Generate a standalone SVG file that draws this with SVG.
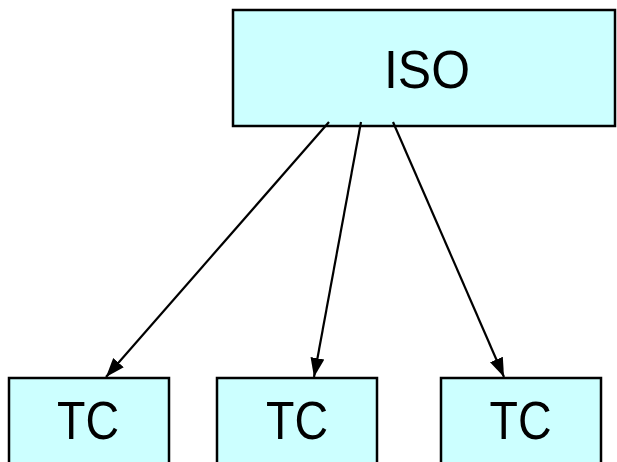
<svg xmlns="http://www.w3.org/2000/svg" width="617" height="462" viewBox="0 0 617 462">
  <style>
    .box { fill: #CCFFFF; stroke: #000000; stroke-width: 2.5; }
    .lbl { font-family: "Liberation Sans", Arial, sans-serif; fill: #000000; text-anchor: middle; }
    .conn { stroke: #000000; stroke-width: 2.2; fill: none; marker-end: url(#arrow); }
  </style>
  <defs>
    <marker id="arrow" markerUnits="userSpaceOnUse" markerWidth="20" markerHeight="16" viewBox="0 0 20 16" refX="19" refY="8" orient="auto">
      <path d="M0,1 L19,8 L0,15 Z" fill="#000000"/>
    </marker>
  </defs>
  <rect width="617" height="462" fill="#FFFFFF"/>
  <g id="iso">
    <rect class="box" x="233" y="10" width="382" height="116"/>
    <text class="lbl" x="427" y="88" font-size="54" textLength="86" lengthAdjust="spacingAndGlyphs">ISO</text>
  </g>
  <g id="tc1">
    <rect class="box" x="9" y="378" width="160" height="100"/>
    <text class="lbl" x="88" y="439" font-size="53" textLength="62" lengthAdjust="spacingAndGlyphs">TC</text>
  </g>
  <g id="tc2">
    <rect class="box" x="217" y="378" width="160" height="100"/>
    <text class="lbl" x="297" y="439" font-size="53" textLength="62" lengthAdjust="spacingAndGlyphs">TC</text>
  </g>
  <g id="tc3">
    <rect class="box" x="441" y="378" width="160" height="100"/>
    <text class="lbl" x="520.5" y="439" font-size="53" textLength="62" lengthAdjust="spacingAndGlyphs">TC</text>
  </g>
  <g id="connectors">
    <line class="conn" x1="329" y1="122" x2="106" y2="377"/>
    <line class="conn" x1="361" y1="122" x2="314" y2="377"/>
    <line class="conn" x1="393" y1="122" x2="504" y2="377"/>
  </g>
</svg>
